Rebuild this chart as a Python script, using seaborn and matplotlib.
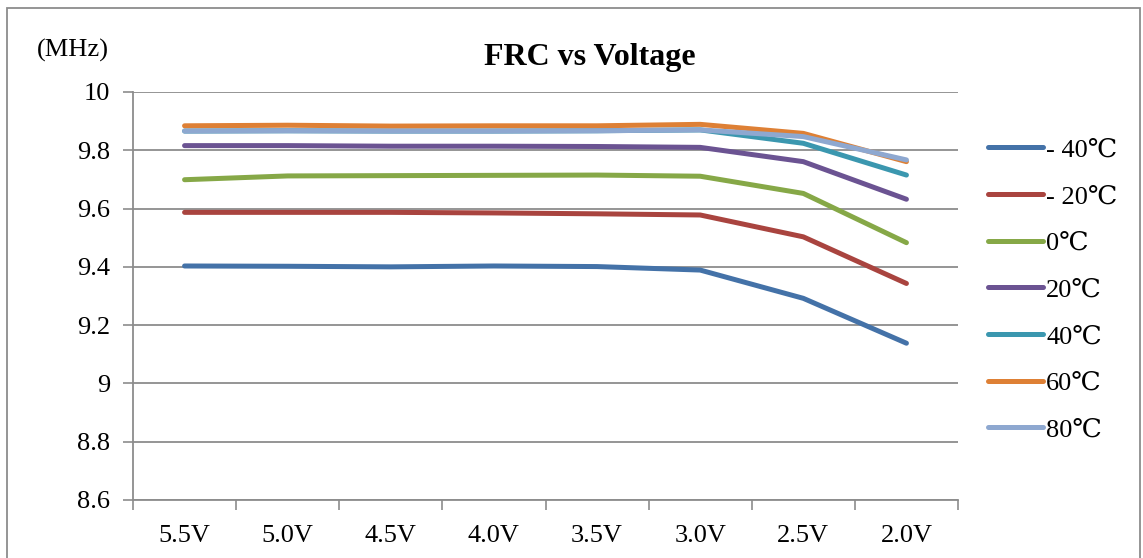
import matplotlib
matplotlib.use("Agg")
import matplotlib.pyplot as plt
import seaborn as sns
import pandas as pd
from matplotlib.patches import Rectangle
from matplotlib.ticker import FixedLocator

voltages = ["5.5V", "5.0V", "4.5V", "4.0V", "3.5V", "3.0V", "2.5V", "2.0V"]
series_names = ["- 40℃", "- 20℃", "0℃", "20℃", "40℃", "60℃", "80℃"]
t_m40 = [9.403, 9.402, 9.400, 9.403, 9.401, 9.389, 9.292, 9.138]
t_m20 = [9.587, 9.587, 9.587, 9.585, 9.582, 9.578, 9.503, 9.343]
t_0 = [9.699, 9.712, 9.713, 9.714, 9.715, 9.711, 9.652, 9.483]
t_20 = [9.816, 9.816, 9.814, 9.814, 9.813, 9.810, 9.761, 9.632]
t_40 = [9.866, 9.867, 9.866, 9.866, 9.867, 9.870, 9.824, 9.715]
t_60 = [9.884, 9.886, 9.883, 9.884, 9.884, 9.889, 9.858, 9.761]
t_80 = [9.866, 9.867, 9.866, 9.866, 9.867, 9.870, 9.847, 9.767]
yticks = [8.6, 8.8, 9.0, 9.2, 9.4, 9.6, 9.8, 10.0]
ytick_labels = ["8.6", "8.8", "9", "9.2", "9.4", "9.6", "9.8", "10"]
colors = ["#4472A8", "#A9443F", "#86A847", "#6B5392", "#3B97AF", "#DE8035", "#8EA8D0"]

all_vals = [t_m40, t_m20, t_0, t_20, t_40, t_60, t_80]
rows = []
for name, vals in zip(series_names, all_vals):
    for i, (v, val) in enumerate(zip(voltages, vals)):
        rows.append({"pos": i, "voltage": v, "temp": name, "freq": val})
df = pd.DataFrame(rows)

sns.set_theme(style="white")
plt.rcParams["font.family"] = ["Liberation Serif", "DejaVu Serif"]
plt.rcParams["text.color"] = "black"
plt.rcParams["xtick.color"] = "black"
plt.rcParams["ytick.color"] = "black"

fig = plt.figure(figsize=(11.43, 5.58), dpi=100)
ax = fig.add_axes([133 / 1143, 1 - 500 / 558, (958 - 133) / 1143, (500 - 92) / 558])

sns.lineplot(data=df, x="pos", y="freq", hue="temp", hue_order=series_names,
             palette=colors, linewidth=3.6, ax=ax, legend=True)

FS = 19
ax.set_xlim(-0.5, 7.5)
ax.set_ylim(8.6, 10.0)
ax.set_yticks(yticks)
ax.set_yticklabels(ytick_labels, fontsize=FS, color="black")
ax.set_xticks(range(len(voltages)))
ax.set_xticklabels(voltages, fontsize=FS, color="black")
ax.xaxis.set_minor_locator(FixedLocator([i - 0.5 for i in range(len(voltages) + 1)]))
ax.tick_params(axis="x", which="major", length=0, pad=18)
ax.tick_params(axis="x", which="minor", length=7, width=1.2, color="#8C8C8C", direction="out", bottom=True)
ax.tick_params(axis="y", which="major", length=7.5, width=1.2, color="#8C8C8C", direction="out", left=True, pad=9)
ax.set_xlabel("")
ax.set_ylabel("")
ax.grid(axis="y", color="#8C8C8C", linewidth=1.3)
ax.set_axisbelow(True)
for s in ["top", "right"]:
    ax.spines[s].set_visible(False)
for s in ["left", "bottom"]:
    ax.spines[s].set_color("#8C8C8C")
    ax.spines[s].set_linewidth(1.3)

for line in ax.get_lines():
    line.set_solid_capstyle("round")

handles, labels = ax.get_legend_handles_labels()
leg = ax.legend(handles, labels, loc="upper left", bbox_to_anchor=(988 / 1143, 1 - 138 / 558),
                bbox_transform=fig.transFigure, frameon=False, fontsize=FS,
                handlelength=2.1, handletextpad=0.1, labelspacing=0.88, borderpad=0, borderaxespad=0)
for h in leg.get_lines():
    h.set_linewidth(3.6)
    h.set_solid_capstyle("round")
for t in leg.get_texts():
    t.set_color("black")

fig.text(590 / 1143, 1 - 57 / 558, "FRC vs Voltage", ha="center", va="center",
         fontsize=23, fontweight="bold", color="black")
fig.text(73 / 1143, 1 - 50 / 558, "(MHz)", ha="center", va="center", fontsize=FS, color="black")

fig.patches.append(Rectangle((7 / 1143, -0.05), (1140 - 7) / 1143, 1.05 - 8 / 558,
                             transform=fig.transFigure, fill=False,
                             edgecolor="#8C8C8C", linewidth=1.3))

fig.savefig("out.png", dpi=100)
